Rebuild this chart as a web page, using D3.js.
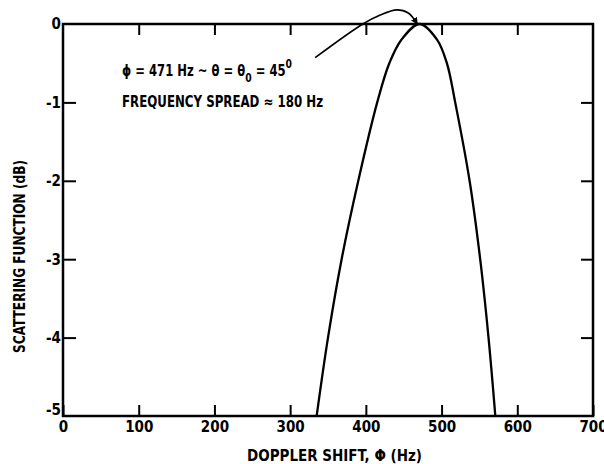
<!DOCTYPE html>
<html>
  <head>
    <meta charset="utf-8">
    <title>Scattering function vs Doppler shift</title>
    <script src="https://d3js.org/d3.v7.min.js"></script>
    <style>
      body { margin: 0; background: #fff; }
      svg text {
        font-family: "Liberation Sans Narrow", "DejaVu Sans Condensed", "Arial Narrow", sans-serif;
        font-weight: bold;
        fill: #000;
      }
      .tick line { stroke: #000; stroke-width: 2; }
      .tick text { font-size: 15px; }
    </style>
  </head>
  <body>
    <div id="chart"></div>
    <script>
      // dados
      var dopplerHz = [335, 350, 368, 390, 415, 431, 447, 471, 494, 507, 518, 537, 551, 562, 571];
      var scatterDb = [-5, -4, -3, -2, -1, -0.5, -0.2, 0, -0.2, -0.5, -1, -2, -3, -4, -5];

      var xTicks = [0, 100, 200, 300, 400, 500, 600, 700];
      var yTicks = [0, -1, -2, -3, -4, -5];

      // seta da anotacao (Hz, dB)
      var arrowHz = [333, 396, 419, 441, 456, 468];
      var arrowDb = [-0.43, 0.0, 0.115, 0.18, 0.14, 0.0];

      var larguraSVG = 604, alturaSVG = 464;
      var margin = {top: 24, right: 11, bottom: 48, left: 63},
          larguraVis = larguraSVG - margin.left - margin.right,
          alturaVis = alturaSVG - margin.top - margin.bottom;

      var svg = d3.select("#chart").append("svg")
          .attr("width", larguraSVG)
          .attr("height", alturaSVG);

      var g = svg.append("g")
          .attr("transform", "translate(" + margin.left + "," + margin.top + ")");

      var x = d3.scaleLinear().domain([0, 700]).range([0, larguraVis]);
      var y = d3.scaleLinear().domain([-5, 0]).range([alturaVis, 0]);

      // eixos com ticks para dentro
      g.append("g")
          .attr("transform", "translate(0," + alturaVis + ")")
          .call(d3.axisBottom(x).tickValues(xTicks).tickSize(-11).tickPadding(5).tickFormat(d => String(d)))
          .call(a => a.select(".domain").remove());

      g.append("g")
          .call(d3.axisTop(x).tickValues(xTicks.slice(1, -1)).tickSize(-11).tickFormat(""))
          .call(a => a.select(".domain").remove());

      g.append("g")
          .call(d3.axisLeft(y).tickValues(yTicks).tickSize(-13).tickPadding(2).tickFormat(d => String(d)))
          .call(a => a.select(".domain").remove())
          .call(a => a.selectAll(".tick line").filter(d => d === 0 || d === -5).remove())
          .call(a => a.selectAll(".tick text").filter(d => d === -5).attr("y", -6));

      g.append("g")
          .attr("transform", "translate(" + larguraVis + ",0)")
          .call(d3.axisRight(y).tickValues(yTicks.slice(1, -1)).tickSize(-12).tickFormat(""))
          .call(a => a.select(".domain").remove());

      // moldura
      g.append("rect")
          .attr("x", x(0)).attr("y", y(0))
          .attr("width", x(700) - x(0)).attr("height", y(-5) - y(0))
          .attr("fill", "none").attr("stroke", "#000").attr("stroke-width", 2.5);

      // curva
      var pontos = dopplerHz.map((d, i) => [d, scatterDb[i]]);
      var linha = d3.line()
          .x(d => x(d[0])).y(d => y(d[1]))
          .curve(d3.curveCatmullRom.alpha(0.5));

      g.append("path")
          .datum(pontos)
          .attr("d", linha)
          .attr("fill", "none")
          .attr("stroke", "#000")
          .attr("stroke-width", 2.3);

      // seta
      svg.append("defs").append("marker")
          .attr("id", "ponta")
          .attr("viewBox", "0 0 10 10")
          .attr("refX", 9).attr("refY", 5)
          .attr("markerWidth", 7).attr("markerHeight", 7)
          .attr("markerUnits", "userSpaceOnUse")
          .attr("orient", "auto")
        .append("path")
          .attr("d", "M0,0 L10,5 L0,10 z")
          .attr("fill", "#000");

      var seta = arrowHz.map((d, i) => [d, arrowDb[i]]);
      g.append("path")
          .datum(seta)
          .attr("d", d3.line().x(d => x(d[0])).y(d => y(d[1])).curve(d3.curveCatmullRom))
          .attr("fill", "none")
          .attr("stroke", "#000")
          .attr("stroke-width", 1.6)
          .attr("marker-end", "url(#ponta)");

      // anotacao
      var t1 = g.append("text")
          .attr("transform", "translate(" + x(78) + "," + y(-0.66) + ") scale(0.86,1)")
          .style("font-size", "15px");
      t1.append("tspan").text("ϕ = 471  Hz ~ θ = θ");
      t1.append("tspan").attr("dy", 6).style("font-size", "12px").text("0");
      t1.append("tspan").attr("dy", -6).text(" = 45");
      t1.append("tspan").attr("dy", -8).style("font-size", "12px").text("0");

      g.append("text")
          .attr("x", x(78)).attr("y", y(-1.06))
          .style("font-size", "15px")
          .attr("textLength", 201)
          .attr("lengthAdjust", "spacingAndGlyphs")
          .text("FREQUENCY  SPREAD ≈ 180 Hz");

      // titulos dos eixos
      svg.append("text")
          .attr("x", 247).attr("y", 461)
          .style("font-size", "16px")
          .attr("textLength", 175)
          .attr("lengthAdjust", "spacingAndGlyphs")
          .text("DOPPLER  SHIFT,  Φ  (Hz)");

      svg.append("text")
          .attr("transform", "translate(25,353) rotate(-90)")
          .style("font-size", "16px")
          .attr("textLength", 193)
          .attr("lengthAdjust", "spacingAndGlyphs")
          .text("SCATTERING  FUNCTION  (dB)");
    </script>
  </body>
</html>
